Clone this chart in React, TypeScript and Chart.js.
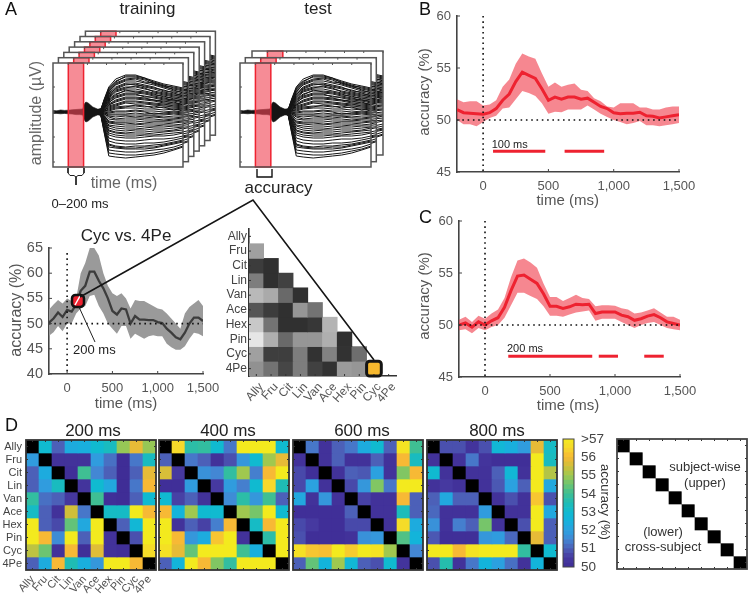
import React, { useEffect, useRef } from "react";
import { Chart, registerables } from "chart.js";

Chart.register(...registerables);

const FONT = '"Liberation Sans", Arial, sans-serif';
const RED = "#ee2230";
const BAND = "rgba(240,55,70,0.6)";

// ---------- panel B / C / Cyc vs 4Pe data ----------
const times = [-200,-150,-100,-50,0,50,100,150,200,250,300,350,400,450,500,550,600,650,700,750,800,850,900,950,1000,1050,1100,1150,1200,1250,1300,1350,1400,1450,1500];
const timeTicks = [0, 500, 1000, 1500];

const bMean = [51,50.7,50.65,50.6,50.55,50.7,51.1,51.9,52.5,53.7,54.6,54.3,54,53,51.9,52.2,52,52.2,52.2,52,52.1,51.7,51.3,51.1,50.7,50.6,50.65,50.65,50.75,50.4,50.35,50.2,50.3,50.4,50.5];
const bUpper = [52,51.7,51.8,51.8,51.4,51.5,51.9,53.2,53.9,55.4,56.4,56.1,55.9,54.5,53.2,53.6,53.2,53.4,53.5,52.9,52.8,52.1,51.8,51.3,51.2,51.6,51.6,51.6,51.2,51.2,51,51,51.2,51.3,51.3];
const bLower = [50,49.6,49.6,49.4,49.8,50.2,50.4,51.1,51.2,52,52.8,52.6,52.3,51.6,50.6,50.8,50.75,51,51,51,51.4,51,50.6,50.3,50,49.8,49.6,49.7,49.9,49.5,49.5,49.4,49.5,49.6,49.7];
const bSignificant = [[76, 476], [624, 927]];

const cMean = [50,50.2,49.8,50.3,50,50.4,50.7,51.7,53.3,54.7,54.8,54.4,54,53,51.8,51.8,51.6,51.75,52,51.95,52,51.1,51.25,51.25,51.25,50.95,50.8,50.45,50.6,50.85,51,50.7,50.3,50.15,50];
const cUpper = [50.5,50.8,50.3,50.9,50.6,51.1,51.5,52.6,54.6,56.2,56.4,56,55.5,54,52.7,52.7,52.3,52.6,52.9,52.6,52.5,51.8,51.9,51.9,51.85,51.6,51.5,51.1,51.2,51.4,51.6,51.2,50.8,50.8,50.5];
const cLower = [49.5,49.6,49.2,49.7,49.5,49.8,50,50.7,51.9,53.1,53.1,52.8,52.5,51.8,50.9,50.9,50.8,51,51.2,51.3,51.4,50.4,50.6,50.6,50.6,50.3,50,49.7,50,50.2,50.3,50,49.7,49.6,49.5];
const cSignificant = [[179, 825], [875, 1023], [1225, 1375]];

const pairMean = [50.2,51,52.2,51.3,52.7,52.4,53.8,56.5,57.5,60.3,60.3,58.5,57,55,52.5,51.8,53,52.8,50,51.5,50.8,50.8,50.7,50.7,50.3,50.1,49,48.2,47.3,46.9,48.2,50,51.2,51.2,50.5];
const pairUpper = [52.8,53.8,54.7,54,55,54.5,55,60,62,65,65,63.5,60,57.5,56,55.5,56,55,53,54.7,54.5,54.5,54,53.5,53,52.8,52,51,50,49,52,53.3,54,54.7,53.5];
const pairLower = [47.6,48.3,49.5,48.5,50,50,52,53,53.5,55.5,55.7,53.5,52,50,49,48,49.5,49.5,47,48,47.5,47,47.5,47.7,47.5,47.5,46,45.3,44.8,44.8,45.5,47,48.2,48,47.5];
const pairMarker = { x: 120, y: 54.5 };

// ---------- EEG traces of panel A ----------
const blobTimes = [-200,-150,-100,-50,0,50,100,150,190,210,230,260,290,320,350,380,400,430];
const blobUpper = [1.5,1.2,2,1.6,1.8,2.2,2.5,2.8,3,8,10,9,7,5,4,3,3,4];
const blobLower = [-1.5,-1.4,-1.8,-1.4,-1.8,-2,-2.6,-2.6,-3,-8,-10,-9,-7,-5,-4,-3,-3,-4];
const traceTimes = [420,470,530,620,750,880,1000,1120,1250,1380,1500];
const traces = [
  [1,13,25,33,37,37,34,31,28,26,24],[1,12,24,31,35,35,33,30,27,24,22],[1,11,22,29,33,34,32,28,25,23,21],
  [1,10,21,27,31,31,29,27,24,21,20],[1,9,19,25,29,29,27,25,21,20,18],[1,8,18,23,27,28,25,23,20,18,17],
  [0,7,16,22,25,25,23,21,19,17,15],[0,6,14,20,23,23,21,19,17,15,14],[0,6,13,18,21,21,20,18,15,14,12],
  [0,5,11,16,19,19,18,16,14,12,11],[0,4,10,14,17,17,16,14,12,11,9],[0,4,8,12,15,15,14,12,11,9,8],
  [0,3,7,10,13,13,12,11,9,8,7],[0,2,6,8,11,11,10,9,8,6,5],[0,2,4,6,9,8,8,7,6,5,4],
  [0,1,3,5,6,6,5,6,4,4,3],[0,1,1,3,4,4,3,3,2,3,1],[0,0,0,1,1,2,1,1,0,1,0],
  [0,-1,-2,-2,-2,-1,-2,-1,-2,-1,-2],[0,-2,-4,-5,-4,-5,-4,-4,-5,-4,-4],[0,-3,-7,-8,-8,-8,-7,-7,-8,-7,-6],
  [0,-4,-10,-11,-11,-12,-11,-10,-10,-10,-9],[0,-6,-13,-14,-15,-15,-14,-14,-13,-13,-12],[0,-7,-16,-18,-19,-18,-18,-17,-17,-16,-15],
  [-1,-9,-19,-21,-22,-22,-22,-21,-20,-19,-18],[-1,-11,-23,-25,-26,-26,-25,-24,-24,-23,-21],[-1,-12,-26,-28,-29,-29,-28,-27,-27,-26,-24],
  [-1,-14,-29,-31,-32,-32,-31,-31,-30,-28,-26],[-1,-15,-32,-34,-35,-34,-34,-33,-32,-30,-28],[-1,-17,-35,-36,-37,-37,-37,-36,-34,-32,-30],
  [-1,-18,-38,-39,-40,-40,-39,-38,-37,-35,-32],[-1,-20,-41,-42,-43,-43,-42,-41,-39,-37,-34],[-1,-21,-44,-45,-46,-45,-44,-43,-41,-38,-35],
  [1,12,23,30,36,36,34,29,26,25,23],[1,10,20,28,32,33,30,29,26,22,19],[1,8,17,24,28,27,26,24,22,19,16],
  [0,7,15,21,24,26,24,20,18,16,16],[0,5,12,17,22,20,19,17,16,13,13],[0,4,9,15,18,18,15,15,13,12,10],
  [0,3,7,11,14,14,13,12,10,10,7],[0,2,5,7,10,10,9,8,7,7,6],[0,1,2,4,5,7,6,4,5,2,3],
  [0,0,-1,0,0,1,0,-2,-1,0,-1],[0,-1,-3,-3,-3,-3,-3,-3,-3,-2,-3],[0,-2,-5,-7,-6,-6,-6,-5,-6,-6,-5],
  [0,-4,-9,-10,-10,-10,-9,-9,-9,-8,-8],[0,-5,-11,-12,-13,-13,-12,-12,-12,-11,-10],[0,-6,-14,-16,-17,-17,-16,-15,-15,-14,-14],
  [-1,-8,-18,-20,-21,-20,-20,-19,-19,-18,-16],[-1,-10,-21,-23,-24,-24,-23,-23,-22,-21,-20],[-1,-16,-33,-35,-36,-36,-35,-35,-33,-31,-29],
];
const windowMs = [0, 200];

// ---------- matrices ----------
const species = ["Ally","Fru","Cit","Lin","Van","Ace","Hex","Pin","Cyc","4Pe"];
const n = null;
const m200 = [
  [n,53,51,52.3,52.4,53,53.3,54.9,55.8,54.9],
  [51.9,n,50.2,50.2,50.2,51.9,51.2,50,51.3,53.3],
  [51,52.3,n,50.1,54,51.5,51,50,51,55.8],
  [51,51.9,53.3,n,50.3,53,52.2,50,51.3,56],
  [53.8,51.2,51,50.4,n,54,50.1,50,51,53],
  [53.2,51,50.2,55.5,51.3,n,53.2,53.2,57,56],
  [57,51,50.7,54.4,52.2,57,n,51,52.8,57],
  [57,56,51.6,57,51,57,50.2,n,50.8,57],
  [55.3,54.5,50.2,56,50.1,55.7,50.2,50.1,n,56.6],
  [51,52.3,56,53.5,52.4,51.8,57,57,56,n],
];
const m400 = [
  [n,56.5,53.7,53.8,53,51.3,57,57,57,53],
  [51,n,51.3,51,50.2,50.8,51.8,53,55,55.8],
  [55.6,50.5,n,51.7,51.5,53.8,55,51.4,56,57],
  [50.1,50.1,51.9,n,50.5,51.9,51.4,53,56.5,53.5],
  [53,50.6,51,50.2,n,51.6,53.7,51.8,54,51],
  [56,52.6,55,53,53,n,55,54.6,57,53],
  [57,50.2,51,50.6,51.4,56,n,53.2,56,57],
  [57,56,51.8,52.3,56.2,57,50.2,n,53.7,57],
  [56.7,55.8,54.4,57,57,57,54,52.4,n,57],
  [51,52.6,57,56,54.7,53.8,57,57,57,n],
];
const m600 = [
  [n,51.3,50.2,51,51.3,52.3,53,51,56.8,54],
  [50.2,n,50.2,51,50.2,50.2,51,50.2,56,53.3],
  [50.7,50.1,n,50.2,51,50.9,52,50.2,54.7,56],
  [50.7,52,50.2,n,50.7,51.8,54.7,51.3,57,57],
  [52.2,50.2,51.8,50.2,n,50.6,50.2,50.2,56,51],
  [50.1,50.1,50.1,50.1,51,n,50.2,50.2,53.4,51],
  [50.7,50.5,50.1,50.1,50.7,50.7,n,50.2,56.6,52.3],
  [50.8,50.1,50.1,50.1,50.2,51.7,51.8,n,54.2,52.6],
  [56.7,56.2,56.1,57,56.3,57,56.8,55,n,51.5],
  [51,54.4,52.6,55,52.8,51,50.8,53,50.3,n],
];
const m800 = [
  [n,50.8,50.8,50.3,50.8,52.8,52.4,51.9,55.8,53.2],
  [50.2,n,50.2,51.3,50.3,50.1,50.1,50.1,57,53.3],
  [53,50.2,n,50.2,50.2,51,52.8,50.2,57,55.2],
  [50.2,50.5,50.2,n,50.2,50.9,52,51,57,52.2],
  [51,52.2,51,51,n,50.2,50.8,50.2,56.2,50.8],
  [51.1,50.2,50.2,50.2,51.9,n,50.2,50.2,57,52.2],
  [51.7,50.2,51.4,51,54.6,50.2,n,50.8,57,51],
  [50.9,50.1,50.1,50.1,51.8,51.9,51.1,n,55.8,51],
  [57,57,56,56.8,57,57,57,53.8,n,53],
  [50.8,53.6,50.2,51.3,52.6,52,51.2,50.2,52.6,n],
];
const triangleGray = [
  [n,n,n,n,n,n,n,n,n,n],
  [160,n,n,n,n,n,n,n,n,n],
  [60,48,n,n,n,n,n,n,n,n],
  [125,48,65,n,n,n,n,n,n,n],
  [185,170,105,48,n,n,n,n,n,n],
  [85,60,48,150,115,n,n,n,n,n],
  [200,115,48,48,55,180,n,n,n,n],
  [230,175,105,150,150,175,48,n,n,n],
  [160,62,62,125,50,130,50,110,n,n],
  [145,115,70,125,65,50,155,150,-1,n],
];
const colorbarLevels = [50,50.25,50.5,50.75,51,51.25,51.5,51.75,52,52.25,52.5,52.75,53,53.25,53.5,53.75,54,54.25,54.5,54.75,55,55.25,55.5,55.75,56,56.25,56.5,56.75];
const colorbarTicks = [50,51,52,53,54,55,56,57];

const parula: [number, number[]][] = [
  [50,[63,45,150]],[50.5,[70,57,160]],[51,[76,96,184]],[51.5,[67,135,212]],[52,[43,161,224]],[52.5,[20,178,220]],
  [53,[16,186,208]],[53.5,[31,188,180]],[54,[63,191,147]],[54.5,[108,196,113]],[55,[160,200,79]],[55.5,[208,191,58]],
  [56,[247,185,53]],[56.5,[246,217,42]],[57,[243,234,30]],
];
function heatColor(v: number | null) {
  if (v === null) return "#000";
  for (let i = 1; i < parula.length; i++) {
    if (v <= parula[i][0]) {
      const [a, ca] = parula[i - 1];
      const [b, cb] = parula[i];
      const f = Math.max(0, (v - a) / (b - a));
      return `rgb(${ca.map((c, k) => Math.round(c + (cb[k] - c) * f)).join(",")})`;
    }
  }
  return "rgb(243,234,30)";
}
function grayColor(v: number | null) {
  if (v === null) return "rgba(0,0,0,0)";
  if (v < 0) return "#f6b82e";
  return `rgb(${v},${v},${v})`;
}
function maskColor(v: number | null) {
  return v === null ? "#000" : "#fff";
}

// ---------- helpers ----------
type Rect = { l: number; t: number; r: number; b: number };
const pts = (xs: number[], ys: number[]) => xs.map((x, i) => ({ x, y: ys[i] }));
const hiddenAxis = { grid: { display: false, drawTicks: false }, border: { display: false }, ticks: { display: false } };

function baseOptions(rect: Rect, x: any, y: any) {
  const right = y.position === "right";
  return {
    responsive: false,
    maintainAspectRatio: false,
    animation: false,
    devicePixelRatio: 1,
    events: [],
    layout: { padding: { left: right ? rect.l : 0, top: rect.t, right: right ? 0 : 750 - rect.r, bottom: 0 } },
    plugins: { legend: { display: false }, title: { display: false }, tooltip: { enabled: false } },
    scales: {
      x: { ...x, afterFit: (s: any) => { s.height = 595 - rect.b; } },
      y: { ...y, afterFit: (s: any) => { s.width = right ? 750 - rect.r : rect.l; } },
    },
  };
}

function strokeInnerTicks(chart: any, sides: string[], len: number, color: string) {
  const { ctx, chartArea: a, scales } = chart;
  ctx.save();
  ctx.strokeStyle = color;
  ctx.lineWidth = 1;
  ctx.beginPath();
  scales.x.ticks.forEach((_: any, i: number) => {
    const p = scales.x.getPixelForTick(i);
    if (sides.includes("bottom")) { ctx.moveTo(p, a.bottom); ctx.lineTo(p, a.bottom - len); }
    if (sides.includes("top")) { ctx.moveTo(p, a.top); ctx.lineTo(p, a.top + len); }
  });
  scales.y.ticks.forEach((_: any, i: number) => {
    const p = scales.y.getPixelForTick(i);
    if (sides.includes("left")) { ctx.moveTo(a.left, p); ctx.lineTo(a.left + len, p); }
    if (sides.includes("right")) { ctx.moveTo(a.right, p); ctx.lineTo(a.right - len, p); }
  });
  ctx.stroke();
  ctx.restore();
}

const setTicks = (vals: number[]) => (s: any) => { s.ticks = vals.map((value) => ({ value })); };

function timeCourse(rect: Rect, yMin: number, yMax: number, yTicks: number[], mean: number[], up: number[], lo: number[], lineColor: string, fillColor: string, sig: number[][], opts: any) {
  const axisColor = "#444";
  const dotted = { borderColor: "#111", borderWidth: 1.6, borderDash: [1.6, 3.7], pointRadius: 0, fill: false, tension: 0 };
  const datasets: any[] = [
    ...(opts.marker ? [{ data: [opts.marker], pointStyle: "rectRounded", pointRadius: 7, pointBackgroundColor: RED, pointBorderColor: "#111", pointBorderWidth: 2.5, showLine: false }] : []),
    ...sig.map((s) => ({ data: [{ x: s[0], y: 47 }, { x: s[1], y: 47 }], borderColor: RED, borderWidth: 3, pointRadius: 0, fill: false })),
    { ...dotted, data: [{ x: 0, y: opts.dotTop }, { x: 0, y: yMin }] },
    { ...dotted, data: [{ x: -200, y: 50 }, { x: 1500, y: 50 }] },
    { data: pts(times, mean), borderColor: lineColor, borderWidth: opts.lineWidth, pointRadius: 0, fill: false, tension: 0 },
    { data: pts(times, up), borderWidth: 0, borderColor: "rgba(0,0,0,0)", backgroundColor: fillColor, pointRadius: 0, fill: "+1", tension: 0 },
    { data: pts(times, lo), borderWidth: 0, borderColor: "rgba(0,0,0,0)", pointRadius: 0, fill: false, tension: 0 },
  ];
  return {
    type: "line",
    data: { datasets },
    options: baseOptions(
      rect,
      {
        type: "linear", min: -200, max: 1500, afterBuildTicks: setTicks(timeTicks),
        grid: { display: false, drawTicks: false }, border: { display: true, color: axisColor, width: 1.6 },
        ticks: { autoSkip: false, maxRotation: 0, padding: 7, color: "#555", font: { family: FONT, size: opts.xFont }, callback: (v: number) => v.toLocaleString("en-US") },
      },
      {
        type: "linear", min: yMin, max: yMax, afterBuildTicks: setTicks(yTicks),
        grid: { display: false, drawTicks: false }, border: { display: true, color: axisColor, width: 1.6 },
        ticks: { autoSkip: false, padding: 6, color: "#555", font: { family: FONT, size: opts.yFont } },
      },
    ),
    plugins: [{ id: "inner", afterDatasetsDraw: (c: any) => strokeInnerTicks(c, ["left", "bottom"], 3, axisColor) }],
  };
}

function eegFrame(rect: Rect) {
  const datasets: any[] = [
    ...traces.map((t) => ({ data: pts(traceTimes, t), borderColor: "#141414", borderWidth: 1, pointRadius: 0, fill: false, tension: 0 })),
    { data: pts(blobTimes, blobUpper), borderWidth: 0.6, borderColor: "#141414", backgroundColor: "#141414", pointRadius: 0, fill: "+1", tension: 0 },
    { data: pts(blobTimes, blobLower), borderWidth: 0.6, borderColor: "#141414", pointRadius: 0, fill: false, tension: 0 },
  ];
  return {
    type: "line",
    data: { datasets },
    options: baseOptions(
      rect,
      { type: "linear", min: -200, max: 1500, afterBuildTicks: setTicks([0, 250, 500, 750, 1000, 1250, 1500]), ...hiddenAxis },
      { type: "linear", min: -55, max: 49, afterBuildTicks: setTicks([-50, -25, 0, 25]), ...hiddenAxis },
    ),
    plugins: [{
      id: "frame",
      beforeDatasetsDraw: (c: any) => {
        const a = c.chartArea;
        c.ctx.save();
        c.ctx.fillStyle = "#fff";
        c.ctx.fillRect(a.left, a.top, a.width, a.height);
        c.ctx.restore();
      },
      afterDatasetsDraw: (c: any) => {
        const { ctx, chartArea: a, scales } = c;
        const x0 = scales.x.getPixelForValue(windowMs[0]);
        const x1 = scales.x.getPixelForValue(windowMs[1]);
        ctx.save();
        ctx.fillStyle = "rgba(240,70,85,0.62)";
        ctx.fillRect(x0, a.top, x1 - x0, a.height);
        ctx.strokeStyle = RED;
        ctx.lineWidth = 1.5;
        ctx.strokeRect(x0, a.top, x1 - x0, a.height);
        ctx.strokeStyle = "#555";
        ctx.lineWidth = 1.5;
        ctx.strokeRect(a.left, a.top, a.width, a.height);
        ctx.restore();
        strokeInnerTicks(c, ["left", "top"], 2, "#555");
      },
    }],
  };
}

function matrixChart(rect: Rect, rows: (number | null)[][], color: (v: number | null) => string, opts: any) {
  const labelFont = { family: FONT, size: opts.font || 11 };
  const centers = species.map((_, i) => i + 0.5);
  return {
    type: "bar",
    data: {
      labels: species,
      datasets: rows.map((row) => ({
        data: row.map(() => 1),
        backgroundColor: row.map(color),
        barPercentage: 1,
        categoryPercentage: 1,
        borderWidth: 0,
      })),
    },
    options: baseOptions(
      rect,
      opts.labels
        ? {
            type: "category", stacked: true,
            grid: { display: false, drawTicks: false }, border: { display: !!opts.axisLines, color: "#333", width: 1.6 },
            ticks: { autoSkip: false, maxRotation: 48, minRotation: 48, padding: opts.xPad ?? 3, labelOffset: opts.xOffset ?? 0, color: "#555", font: labelFont },
          }
        : { type: "category", stacked: true, ...hiddenAxis },
      {
        type: "linear", stacked: true, min: 0, max: 10, reverse: true, afterBuildTicks: setTicks(centers),
        ...(opts.labels
          ? {
              grid: { display: false, drawTicks: false }, border: { display: !!opts.axisLines, color: "#333", width: 1.6 },
              ticks: { autoSkip: false, padding: opts.yPad ?? 4, color: "#444", font: labelFont, callback: (_v: number, i: number) => species[i] },
            }
          : hiddenAxis),
      },
    ),
    plugins: [{
      id: "frame",
      afterDatasetsDraw: (c: any) => {
        const { ctx, chartArea: a, scales } = c;
        if (opts.frame) {
          strokeInnerTicks(c, ["left", "right", "top", "bottom"], 2, "#333");
          ctx.save();
          ctx.strokeStyle = opts.frame;
          ctx.lineWidth = 1.8;
          ctx.strokeRect(a.left, a.top, a.width, a.height);
          ctx.restore();
        } else {
          strokeInnerTicks(c, ["left", "bottom"], 2, "#333");
        }
        if (opts.highlight) {
          const [row, col] = opts.highlight;
          const cx = scales.x.getPixelForTick(col);
          const cy = scales.y.getPixelForValue(row + 0.5);
          const h = a.width / 20;
          ctx.save();
          ctx.strokeStyle = "#151515";
          ctx.lineWidth = 3;
          ctx.beginPath();
          ctx.roundRect(cx - h, cy - h, 2 * h, 2 * h, 3);
          ctx.stroke();
          ctx.restore();
        }
      },
    }],
  };
}

function colorbarChart(rect: Rect) {
  return {
    type: "bar",
    data: {
      labels: [""],
      datasets: colorbarLevels.map((v) => ({
        data: [[v, v + 0.25]],
        backgroundColor: heatColor(v + 0.125),
        barPercentage: 1,
        categoryPercentage: 1,
        grouped: false,
        borderWidth: 0,
      })),
    },
    options: baseOptions(
      rect,
      { type: "category", ...hiddenAxis },
      {
        type: "linear", position: "right", min: 50, max: 57, afterBuildTicks: setTicks(colorbarTicks),
        grid: { display: false, drawTicks: false }, border: { display: false },
        ticks: { autoSkip: false, padding: 7, color: "#444", font: { family: FONT, size: 13.5 }, callback: (v: number) => (v === 57 ? ">57" : String(v)) },
      },
    ),
    plugins: [{
      id: "frame",
      afterDatasetsDraw: (c: any) => {
        const { ctx, chartArea: a } = c;
        ctx.save();
        ctx.strokeStyle = "#444";
        ctx.lineWidth = 1;
        ctx.strokeRect(a.left, a.top, a.width, a.height);
        ctx.restore();
      },
    }],
  };
}

// ---------- annotations ----------
const notes: [string, number, number, number, string, string?, number?][] = [
  ["A", 5, 10, 18, "#111", "left"],
  ["training", 147.5, 9, 17, "#222"],
  ["test", 318, 9, 17, "#222"],
  ["amplitude (µV)", 37, 113, 16, "#666", "center", -90],
  ["time (ms)", 124, 184, 16, "#666"],
  ["accuracy", 278.5, 188, 17, "#222"],
  ["0–200 ms", 80, 204, 13, "#222"],
  ["Cyc vs. 4Pe", 126, 236, 17, "#222"],
  ["accuracy (%)", 17, 310, 16, "#555", "center", -90],
  ["time (ms)", 126, 404, 15, "#555"],
  ["200 ms", 73, 350, 13, "#222", "left"],
  ["B", 419, 10, 18, "#111", "left"],
  ["accuracy (%)", 425, 92, 15, "#555", "center", -90],
  ["time (ms)", 567.7, 201, 15, "#555"],
  ["100 ms", 491.7, 145, 11, "#222", "left"],
  ["C", 419, 218, 18, "#111", "left"],
  ["accuracy (%)", 425, 296, 15, "#555", "center", -90],
  ["time (ms)", 568, 406, 15, "#555"],
  ["200 ms", 507, 349, 11, "#222", "left"],
  ["D", 5, 426, 18, "#111", "left"],
  ["200 ms", 93, 431, 17, "#222"],
  ["400 ms", 228, 431, 17, "#222"],
  ["600 ms", 362, 431, 17, "#222"],
  ["800 ms", 497, 431, 17, "#222"],
  ["accuracy (%)", 605, 502, 13, "#333", "center", 90],
  ["subject-wise", 705, 467, 13, "#333"],
  ["(upper)", 705, 483, 13, "#333"],
  ["(lower)", 663, 532, 13, "#333"],
  ["cross-subject", 663, 547, 13, "#333"],
];
const strokes: [number[][], string, number][] = [
  [[[80, 297], [253, 200], [374, 360]], "#151515", 1.6],
  [[[79, 307], [95, 342]], "#222", 1],
  [[[75, 305], [80, 296]], "#fff", 1.5],
  [[[68, 168], [68, 173], [70, 175.5], [74, 175.5], [76, 177], [76, 185]], "#222", 1],
  [[[84, 168], [84, 173], [82, 175.5], [78, 175.5], [76, 177]], "#222", 1],
  [[[257, 169], [257, 177], [272, 177], [272, 169]], "#111", 1.4],
];

function overlayChart() {
  return {
    type: "line",
    data: {
      datasets: strokes.map(([p, color, w]) => ({
        data: p.map(([x, y]) => ({ x, y })), borderColor: color, borderWidth: w, pointRadius: 0, fill: false, tension: 0, clip: false,
      })),
    },
    options: baseOptions(
      { l: 0, t: 0, r: 750, b: 595 },
      { type: "linear", min: 0, max: 750, ...hiddenAxis },
      { type: "linear", min: 0, max: 595, reverse: true, ...hiddenAxis },
    ),
    plugins: [{
      id: "notes",
      afterDatasetsDraw: (c: any) => {
        const { ctx } = c;
        notes.forEach(([text, x, y, size, color, align, rot]) => {
          ctx.save();
          ctx.translate(x, y);
          if (rot) ctx.rotate((rot * Math.PI) / 180);
          ctx.font = `${size}px ${FONT}`;
          ctx.fillStyle = color;
          ctx.textAlign = align || "center";
          ctx.textBaseline = "middle";
          ctx.fillText(text, 0, 0);
          ctx.restore();
        });
      },
    }],
  };
}

// ---------- layers, back to front ----------
const frameW = 130;
const trainingLayers = [6, 5, 4, 3, 2, 1, 0].map((i) => {
  const l = 53 + i * 5.4;
  const t = 63 - i * 5.3;
  return () => eegFrame({ l, t, r: l + frameW, b: t + 104 });
});
const testOffsets = [[252, 51], [245.3, 57.7], [240, 63]];
const testLayers = testOffsets.map(([l, t]) => () => eegFrame({ l, t, r: l + frameW + 1, b: t + 104 }));

const layers: (() => any)[] = [
  ...trainingLayers,
  ...testLayers,
  () => timeCourse({ l: 49, t: 248, r: 203, b: 374 }, 40, 65, [40, 45, 50, 55, 60, 65], pairMean, pairUpper, pairLower, "#3c3c3c", "#9a9a9a", [], { marker: pairMarker, dotTop: 64, lineWidth: 2.3, xFont: 13, yFont: 14.5 }),
  () => timeCourse({ l: 457, t: 16, r: 679, b: 172 }, 45, 60, [45, 50, 55, 60], bMean, bUpper, bLower, RED, BAND, bSignificant, { dotTop: 60, lineWidth: 3, xFont: 13, yFont: 13 }),
  () => timeCourse({ l: 459, t: 221, r: 680, b: 377 }, 45, 60, [45, 50, 55, 60], cMean, cUpper, cLower, RED, BAND, cSignificant, { dotTop: 60, lineWidth: 3, xFont: 13, yFont: 13 }),
  () => matrixChart({ l: 249, t: 229, r: 396, b: 376 }, triangleGray, grayColor, { labels: true, axisLines: true, font: 12, xOffset: 5, xPad: 4, yPad: 2, highlight: [9, 8] }),
  () => matrixChart({ l: 26, t: 440, r: 156, b: 570 }, m200, heatColor, { labels: true, font: 11, frame: "#333" }),
  () => matrixChart({ l: 159, t: 440, r: 289, b: 570 }, m400, heatColor, { frame: "#333" }),
  () => matrixChart({ l: 293, t: 440, r: 423, b: 570 }, m600, heatColor, { frame: "#333" }),
  () => matrixChart({ l: 427, t: 440, r: 557, b: 570 }, m800, heatColor, { frame: "#333" }),
  () => colorbarChart({ l: 563, t: 439, r: 574, b: 567 }),
  () => matrixChart({ l: 617, t: 439, r: 747, b: 569 }, species.map((_, i) => species.map((_s, j) => (i === j ? null : 0))), maskColor, { frame: "#444" }),
  overlayChart,
];

function Layer({ make }: { make: () => any }) {
  const ref = useRef<HTMLCanvasElement>(null);
  useEffect(() => {
    const chart = new Chart(ref.current as HTMLCanvasElement, make());
    return () => chart.destroy();
  }, [make]);
  return <canvas ref={ref} width={750} height={595} style={{ position: "absolute", left: 0, top: 0 }} />;
}

export default function App() {
  return (
    <div style={{ position: "absolute", left: 0, top: 0, width: 750, height: 595, overflow: "hidden", background: "#fff" }}>
      {layers.map((make, i) => (
        <Layer key={i} make={make} />
      ))}
    </div>
  );
}
